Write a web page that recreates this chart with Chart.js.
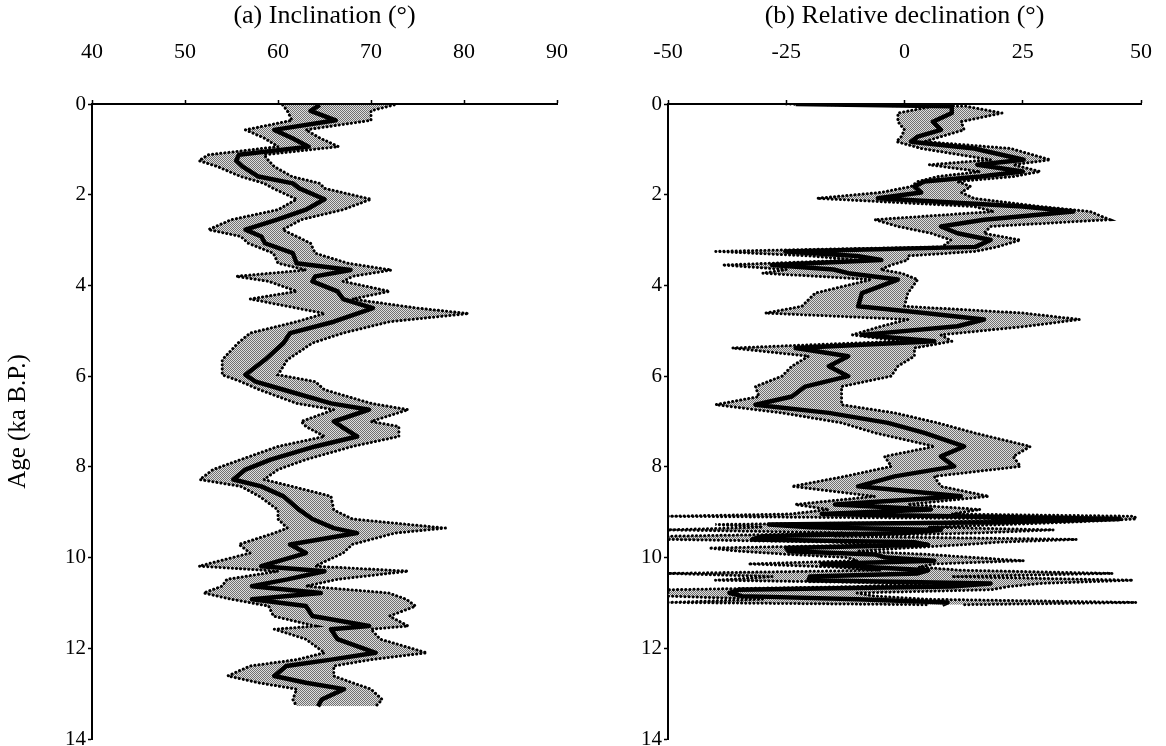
<!DOCTYPE html>
<html>
<head>
<meta charset="utf-8">
<script src="https://cdn.jsdelivr.net/npm/chart.js@4.4.1/dist/chart.umd.min.js"></script>
<style>
  body { margin: 0; background: #fff; }
  #wrap { position: relative; width: 1166px; height: 746px; }
  #wrap canvas { position: absolute; top: 0; }
</style>
</head>
<body>
<div id="wrap">
  <canvas id="incChart" width="600" height="746" style="left:0"></canvas>
  <canvas id="decChart" width="566" height="746" style="left:600px"></canvas>
</div>
<script>
// Inclination record: age (ka B.P.), stacked mean and the envelope edges (°)
const incAge  = [0.02, 0.15, 0.36, 0.57, 0.75, 0.94, 1.12, 1.25, 1.38, 1.6, 1.75, 1.86, 2.1, 2.33, 2.55, 2.77, 2.92, 3.07, 3.29, 3.51, 3.66, 3.8, 3.91, 4.13, 4.3, 4.5, 4.62, 4.8, 5.05, 5.27, 5.64, 5.97, 6.12, 6.3, 6.6, 6.74, 7.0, 7.11, 7.33, 7.55, 7.84, 8.06, 8.28, 8.43, 8.65, 8.95, 9.15, 9.35, 9.46, 9.71, 9.9, 10.19, 10.3, 10.48, 10.63, 10.78, 10.92, 11.07, 11.29, 11.51, 11.58, 11.8, 12.1, 12.25, 12.39, 12.61, 12.76, 12.9, 13.13, 13.28];
const incMean = [64.5, 63.5, 66.2, 59.6, 61.5, 63.3, 55.8, 55.5, 56.2, 57.9, 61.6, 62.3, 65, 63, 59.9, 56.5, 58.2, 58.6, 61.6, 62, 67.8, 64, 63.7, 66.4, 67, 70.2, 68.5, 66, 61.3, 60.6, 58.6, 56.5, 57.6, 60.6, 65.7, 69.8, 66, 66.8, 68.5, 64, 59.2, 56.5, 55.2, 58.2, 60.6, 62.3, 63.7, 66, 68.5, 61.3, 63, 58.2, 65, 61, 57.2, 64.6, 57.2, 63, 63.7, 69.8, 65.7, 66.4, 70.5, 65.7, 60.9, 59.6, 63, 67.1, 64.7, 64.3];
const incLow  = [60.5, 61, 61.5, 56.5, 58.5, 60, 52.5, 51.5, 53.5, 56, 58.5, 59.5, 62, 60, 55, 52.5, 56, 56.8, 59.5, 60, 63, 55.5, 59, 62, 57, 62, 65, 62, 57, 55.7, 54, 54, 56, 58, 62, 66, 62.5, 63, 65, 60, 56, 53, 51.6, 56, 58, 60, 60, 61, 59.6, 55.8, 57, 51.5, 60, 54.5, 54, 52, 55, 59, 59.5, 64, 59.6, 63, 65, 62, 57, 54.6, 57.9, 62, 61.6, 62];
const incHigh = [72.5, 70, 70, 63, 64.5, 66.5, 58.5, 59, 59.6, 61.5, 64.5, 65, 70, 67, 62.5, 60.5, 62, 63.5, 64, 67.5, 72.2, 68, 67, 72, 68, 75, 80.5, 72, 67, 63.7, 61, 60, 64, 65, 70, 74, 70, 73, 73, 68, 63, 60, 58.5, 61.5, 65.7, 66, 68, 78, 72.6, 68, 67, 64, 74, 66.4, 63, 71.9, 73.8, 74.8, 72, 74, 70, 71, 76, 70, 66, 66, 68, 70, 71.2, 70.5];

// Relative declination record (°)
const decAge  = [0, 0.05, 0.2, 0.39, 0.57, 0.72, 0.83, 0.98, 1.23, 1.34, 1.49, 1.6, 1.71, 1.82, 1.95, 2.08, 2.26, 2.37, 2.55, 2.7, 2.85, 3.0, 3.15, 3.25, 3.35, 3.44, 3.55, 3.65, 3.73, 3.87, 4.17, 4.46, 4.61, 4.75, 4.9, 5.09, 5.23, 5.38, 5.56, 5.78, 6.0, 6.23, 6.45, 6.63, 6.81, 7.03, 7.25, 7.55, 7.77, 7.99, 8.21, 8.43, 8.65, 8.83, 8.94, 9.04, 9.09, 9.15, 9.22, 9.27, 9.33, 9.39, 9.46, 9.53, 9.6, 9.66, 9.72, 9.79, 9.86, 9.93, 10.0, 10.07, 10.14, 10.21, 10.28, 10.35, 10.42, 10.5, 10.57, 10.64, 10.71, 10.78, 10.85, 10.92, 10.99, 11.04];
const decMean = [-23, 10, 10, 6, 7.7, 2.8, 1.4, 14.7, 25.2, 15.4, 25, 16, 4.2, 2.1, 3.5, -5.6, 25, 35.7, 16.8, 7.7, 11.2, 18.2, 15, -25.2, -10, -4.9, -28, -15, -11.9, -1.4, -9, -9.8, 4.2, 16.8, 11.2, -9, 6.3, -23, -11.9, -16, -11.9, -21, -23.8, -31.5, -16, -3.5, 4.2, 12.6, 7.7, 10.5, -2.1, -9.8, 11.9, -14.7, 5.6, -17.5, 10, 45.5, 20, -28.7, -20, 7.7, 0, -30, -32.2, 2.1, 5, -25, -24.5, -6.3, -4, 6.3, -17.5, -8, 5, 2.8, -20, -20.3, 18.2, 10, -35, -37, -34.3, -10, 9.1, 8];
const decLow  = [-25, 6, -1.4, -1.4, 0, -0.7, -1.7, 3.5, 18.2, 5.2, 16, 7, 2.8, 1.4, -5, -18.5, 14.7, 18.9, -6.3, -1.4, 5.6, 9.8, 8, -39.9, -20, -10, -38.5, -25, -30, -7, -18.9, -21.7, -29.4, 0.7, -4.9, -11, -0.7, -36.4, -20.3, -23.8, -25.9, -31.5, -30.8, -39.9, -25.9, -13.3, -6.3, 6.3, -4.2, -2.8, -12.6, -23.8, -6.3, -23.1, -16, -24, -50, 30, 8, -40, -30, -50, -10, -50, -50, -15, -5, -41.3, -35, -24.5, -12, -10, -33, -15, -5, -50, -28, -40, 5, -10, -50, -50, -50, -30, -50, 5];
const decHigh = [-20, 13, 20.6, 12, 12.6, 7.7, 4.2, 22.4, 30.8, 23, 28.7, 23, 11.2, 14, 12, 14.7, 28.7, 39.2, 43.4, 18.2, 16.8, 24.5, 19.6, 15, 0.7, 0.7, -2.8, -5, -0.7, 2.8, 0.7, 0, 25.2, 37, 25.9, 7.7, 10, 2.1, 2.1, -1.4, -2.8, -13.3, -13.3, -13.3, -2.1, 7, 14.7, 26.6, 23, 24.5, 6.3, 7.7, 17.8, 0.7, 16, 10, 48.6, 49, 35, 22, 5, 31.5, 15, -15, 36.4, 20, 12, 0, -10, 5, 14.7, 25.2, 6.3, 3, 12, 44, 10, 48.3, 28.7, 22, 18.2, -10, -6.3, 5, 49, 12];

// Axis ticks
const incTicks = [40, 50, 60, 70, 80, 90];
const decTicks = [-50, -25, 0, 25, 50];
const ageTicks = [0, 2, 4, 6, 8, 10, 12, 14];

const SERIF = "'Liberation Serif', 'Times New Roman', serif";

// halftone-like grey for the envelope
function stipple() {
  const c = document.createElement('canvas');
  c.width = 2; c.height = 2;
  const g = c.getContext('2d');
  g.fillStyle = '#dedede'; g.fillRect(0, 0, 2, 2);
  g.fillStyle = '#707070'; g.fillRect(0, 0, 1, 1); g.fillRect(1, 1, 1, 1);
  return g.createPattern(c, 'repeat');
}

function pts(age, vals) {
  return age.map((a, i) => ({ x: vals[i], y: a }));
}

function makePanel(id, cfg) {
  const dotted = { borderColor: '#000', borderWidth: 3, borderDash: [0.1, 4], borderCapStyle: 'round', pointRadius: 0 };
  new Chart(document.getElementById(id), {
    type: 'line',
    data: {
      datasets: [
        { data: pts(cfg.age, cfg.mean), borderColor: '#000', borderWidth: 4.5, borderJoinStyle: 'round', pointRadius: 0, fill: false },
        Object.assign({ data: pts(cfg.age, cfg.low), fill: false }, dotted),
        Object.assign({ data: pts(cfg.age, cfg.high), fill: '-1', backgroundColor: stipple() }, dotted)
      ]
    },
    options: {
      responsive: false,
      animation: false,
      indexAxis: 'y',
      layout: { autoPadding: false, padding: { left: 0, right: cfg.rightPad, top: 0, bottom: 7 } },
      plugins: { legend: { display: false }, tooltip: { enabled: false } },
      elements: { line: { tension: 0 } },
      scales: {
        x: {
          type: 'linear', position: 'top', min: cfg.xMin, max: cfg.xMax,
          afterBuildTicks: s => { s.ticks = cfg.xTicks.map(v => ({ value: v })); },
          afterFit: s => { s.height = 104; s.paddingLeft = 0; s.paddingRight = 0; },
          ticks: { color: '#000', font: { family: SERIF, size: 22 }, padding: 35, maxRotation: 0 },
          grid: { drawOnChartArea: false, color: '#000', tickLength: 4, tickWidth: 1.5 },
          border: { color: '#000', width: 2 },
          title: { display: true, text: cfg.title, color: '#000', font: { family: SERIF, size: 26 }, padding: { top: 1, bottom: 0 } }
        },
        y: {
          type: 'linear', position: 'left', reverse: true, min: 0, max: 14,
          afterBuildTicks: s => { s.ticks = ageTicks.map(v => ({ value: v })); },
          afterFit: s => { s.width = cfg.leftWidth; s.paddingTop = 0; s.paddingBottom = 0; },
          ticks: { color: '#000', font: { family: SERIF, size: 21 }, padding: 2 },
          grid: { drawOnChartArea: false, color: '#000', tickLength: 4, tickWidth: 1.5 },
          border: { color: '#000', width: 2 },
          title: { display: cfg.ageTitle, text: 'Age (ka B.P.)', color: '#000', font: { family: SERIF, size: 25 }, padding: { top: 3, bottom: 0 } }
        }
      }
    }
  });
}

makePanel('incChart', {
  age: incAge, mean: incMean, low: incLow, high: incHigh,
  xMin: 40, xMax: 90, xTicks: incTicks,
  title: '(a) Inclination (°)', ageTitle: true, leftWidth: 92, rightPad: 43
});

makePanel('decChart', {
  age: decAge, mean: decMean, low: decLow, high: decHigh,
  xMin: -50, xMax: 50, xTicks: decTicks,
  title: '(b) Relative declination (°)', ageTitle: false, leftWidth: 68, rightPad: 25
});
</script>
</body>
</html>
